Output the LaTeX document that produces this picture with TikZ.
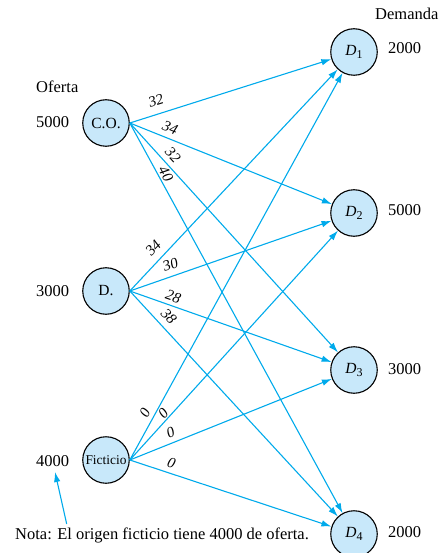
\documentclass[tikz,border=0pt]{standalone}
\usepackage{fontspec}
\setmainfont{Liberation Serif}
\usetikzlibrary{arrows.meta}
\definecolor{linec}{RGB}{0,170,235}
\definecolor{nodefill}{RGB}{200,232,250}
\begin{document}
\begin{tikzpicture}[x=1pt,y=-1pt,
  every node/.style={font=\fontsize{16.5}{19}\selectfont},
  circ/.style={circle,draw=black,line width=1.1pt,fill=nodefill,minimum size=46.5pt,inner sep=0pt,font=\fontsize{15.5}{18}\selectfont},
  edge/.style={draw=linec,line width=1.1pt,-{Latex[length=10pt,width=6.5pt]}},
  lbl/.style={sloped,inner sep=0pt,font=\fontsize{15}{18}\selectfont\itshape},
  txt/.style={anchor=base west,inner sep=0pt}]
\useasboundingbox (0,0) rectangle (443,553);
% source nodes
\node[circ] (co) at (106,123) {C.O.};
\node[circ] (dd) at (106,291) {D.};
\node[circ,font=\fontsize{13.4}{16}\selectfont] (fi) at (106,460) {Ficticio};
% destination nodes
\newcommand{\dlab}[1]{\textit{D}\raisebox{-0.45ex}{\fontsize{12}{14}\selectfont #1}}
\node[circ] (d1) at (354,52) {\dlab{1}};
\node[circ] (d2) at (354,213) {\dlab{2}};
\node[circ] (d3) at (354,370) {\dlab{3}};
\node[circ] (d4) at (354,534) {\dlab{4}};
% texts
\node[txt] (of) at (36,92.5) {Oferta};
\node[txt] (s1) at (36,128) {5000};
\node[txt] (s2) at (36,296) {3000};
\node[txt] (s3) at (36,466) {4000};
\node[txt] (dm) at (375,20) {Demanda};
\node[txt] (r1) at (388,54) {2000};
\node[txt] (r2) at (388,215.7) {5000};
\node[txt] (r3) at (388,374) {3000};
\node[txt] (r4) at (388,537.3) {2000};
\node[txt] (nota) at (15,539.5) {Nota: El origen ficticio tiene 4000 de oferta.};
\coordinate (na) at (66.7,524);
\draw[edge] (na) -- (55,472);
% edges from C.O.
\draw[edge] (co.east) -- node[lbl,pos=0.15,above=7.7pt] (l11) {32} (d1);
\draw[edge] (co.east) -- node[lbl,pos=0.18,above=5.3pt] (l12) {34} (d2);
\draw[edge] (co.east) -- node[lbl,pos=0.17,above=4.9pt] (l13) {32} (d3);
\draw[edge] (co.east) -- node[lbl,pos=0.14,above=1.5pt] (l14) {40} (d4);
% edges from D.
\draw[edge] (dd.east) -- node[lbl,pos=0.156,above=6.7pt] (l21) {34} (d1);
\draw[edge] (dd.east) -- node[lbl,pos=0.22,above=5.9pt] (l22) {30} (d2);
\draw[edge] (dd.east) -- node[lbl,pos=0.20,above=3.6pt] (l23) {28} (d3);
\draw[edge] (dd.east) -- node[lbl,pos=0.147,above=6pt] (l24) {38} (d4);
% edges from Ficticio
\draw[edge] (fi.east) -- node[lbl,pos=0.11,above=3.9pt] (l31) {0} (d1);
\draw[edge] (fi.east) -- node[lbl,pos=0.185,above=1.2pt] (l32) {0} (d2);
\draw[edge] (fi.east) -- node[lbl,pos=0.22,above=4.5pt] (l33) {0} (d3);
\draw[edge] (fi.east) -- node[lbl,pos=0.19,above=5pt] (l34) {0} (d4);
\end{tikzpicture}
\end{document}
